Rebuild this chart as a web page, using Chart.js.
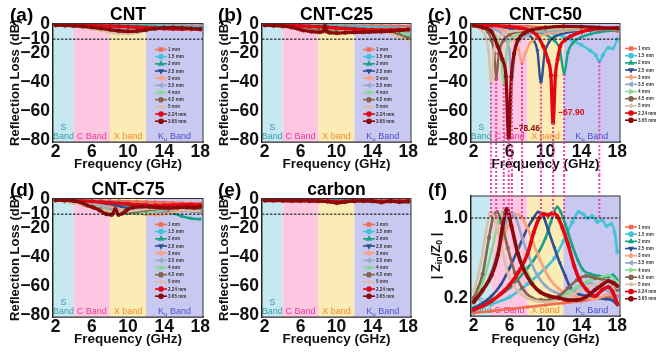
<!DOCTYPE html>
<html>
<head>
<meta charset="utf-8">
<script src="https://cdn.jsdelivr.net/npm/chart.js@4.4.1/dist/chart.umd.min.js"></script>
<style>
  body { margin: 0; background: #fff; width: 670px; height: 361px; overflow: hidden; position: relative; }
  .panel { position: absolute; }
  .panel canvas { display: block; }
  .tag { position: absolute; font: bold 19px "Liberation Sans", Arial, sans-serif; line-height: 19px; color: #000; z-index: 5; }
</style>
</head>
<body>
<div class="panel" style="left:0;top:0"><canvas id="pA" width="215" height="175"></canvas></div>
<div class="panel" style="left:209px;top:0"><canvas id="pB" width="215" height="175"></canvas></div>
<div class="panel" style="left:418px;top:0"><canvas id="pC" width="252" height="175"></canvas></div>
<div class="panel" style="left:0;top:175px"><canvas id="pD" width="215" height="175"></canvas></div>
<div class="panel" style="left:209px;top:175px"><canvas id="pE" width="215" height="175"></canvas></div>
<div class="panel" style="left:418px;top:175px"><canvas id="pF" width="252" height="175"></canvas></div>
<div class="tag" style="left:10px;top:5px">(a)</div>
<div class="tag" style="left:218px;top:5px">(b)</div>
<div class="tag" style="left:428px;top:5px">(c)</div>
<div class="tag" style="left:10px;top:180px">(d)</div>
<div class="tag" style="left:218px;top:180px">(e)</div>
<div class="tag" style="left:428px;top:180px">(f)</div>
<script>
const FONT = '"Liberation Sans", Arial, Helvetica, sans-serif';
Chart.defaults.font.family = FONT;
Chart.defaults.color = '#111';

// ---- data ----
const thickness = ['1 mm', '1.5 mm', '2 mm', '2.5 mm', '3 mm', '3.5 mm', '4 mm', '4.5 mm', '5 mm', '2.24 mm', '3.65 mm'];
const freqGrid = [2, 3, 4, 5, 6, 7, 8, 9, 10, 11, 12, 13, 14, 15, 16, 17, 18];
const freqTicks = [2, 6, 10, 14, 18];
const rlTicks = [0, -10, -20, -40, -60, -80];
const zTicks = [0.2, 0.6, 1.0];
const bandEdges = [2, 4, 8, 12, 18];
const bandText = [['S', 'Band'], ['C Band'], ['X band'], ['K_u Band']];

// (a) CNT
const rlCNT = [
  [-0.1, -0.1, -0.1, -0.2, -0.2, -0.2, -0.3, -0.3, -0.3, -0.4, -0.4, -0.5, -0.5, -0.6, -0.6, -0.7, -0.8],
  [-0.1, -0.2, -0.2, -0.3, -0.3, -0.4, -0.5, -0.5, -0.6, -0.7, -0.8, -0.9, -1.0, -1.1, -1.2, -1.4, -1.5],
  [-0.1, -0.2, -0.3, -0.4, -0.5, -0.6, -0.7, -0.8, -1.0, -1.1, -1.3, -1.5, -1.7, -1.9, -2.2, -2.5, -2.4],
  [-0.2, -0.3, -0.4, -0.5, -0.7, -0.9, -1.1, -1.3, -1.6, -1.9, -2.2, -2.5, -2.8, -3.1, -3.2, -3.0, -2.8],
  [-0.2, -0.3, -0.5, -0.7, -1.0, -1.3, -1.7, -2.1, -2.6, -3.0, -3.2, -3.1, -2.8, -2.5, -2.4, -2.6, -3.0],
  [-0.2, -0.4, -0.6, -0.9, -1.3, -1.8, -2.4, -3.0, -3.5, -3.7, -3.5, -3.0, -2.5, -2.2, -2.3, -2.7, -3.2],
  [-0.3, -0.5, -0.8, -1.2, -1.8, -2.5, -3.3, -4.0, -4.3, -4.0, -3.4, -2.7, -2.2, -2.0, -2.3, -2.9, -3.3],
  [-0.3, -0.6, -1.0, -1.6, -2.4, -3.4, -4.4, -5.2, -5.4, -4.8, -3.8, -2.8, -2.2, -2.1, -2.6, -3.3, -3.0],
  [-0.4, -0.7, -1.2, -2.0, -3.0, -4.2, -5.4, -6.2, -6.4, -5.6, -4.2, -3.0, -2.4, -2.5, -3.2, -3.8, -3.0],
  [-0.1, -0.2, -0.3, -0.4, -0.6, -0.8, -1.0, -1.2, -1.5, -1.8, -2.1, -2.4, -2.7, -2.9, -3.0, -2.8, -3.2],
  [-0.3, -0.5, -0.8, -1.2, -1.8, -2.6, -3.4, -4.2, -4.6, -4.4, -3.6, -2.8, -2.2, -2.0, -2.2, -2.7, -3.0]
];

// (b) CNT-C25
const rlC25 = [
  [-0.1, -0.1, -0.2, -0.2, -0.3, -0.3, -0.4, -0.4, -0.5, -0.5, -0.6, -0.7, -0.7, -0.8, -0.9, -1.0, -1.1],
  [-0.1, -0.2, -0.3, -0.4, -0.5, -0.6, -0.7, -0.8, -1.0, -1.1, -1.3, -1.5, -1.7, -2.0, -2.3, -2.7, -3.2],
  [-0.2, -0.3, -0.4, -0.6, -0.8, -1.0, -1.2, -1.4, -1.7, -2.0, -2.4, -2.8, -3.3, -3.9, -4.6, -5.5, -7.5],
  [-0.2, -0.4, -0.6, -0.8, -1.1, -1.4, -1.8, -2.2, -2.7, -3.2, -3.8, -4.3, -4.5, -4.3, -4.0, -4.2, -5.0],
  [-0.3, -0.5, -0.7, -1.0, -1.4, -1.9, -2.5, -3.1, -3.7, -4.1, -4.2, -3.9, -3.4, -3.2, -3.5, -4.2, -5.2],
  [-0.3, -0.5, -0.8, -1.2, -1.7, -2.4, -3.1, -3.8, -4.2, -4.2, -3.8, -3.2, -3.0, -3.2, -3.9, -4.8, -6.0],
  [-0.3, -0.6, -0.9, -1.4, -2.0, -2.8, -3.6, -4.3, -4.5, -4.2, -3.6, -3.1, -3.0, -3.4, -4.3, -5.5, -7.0],
  [-0.4, -0.7, -1.1, -1.7, -2.5, -3.4, -4.3, -4.9, -4.9, -4.3, -3.6, -3.2, -3.3, -4.0, -5.2, -7.0, -9.5],
  [-0.4, -0.8, -1.3, -2.0, -3.0, -4.1, -5.1, -5.6, -5.2, -4.4, -3.7, -3.4, -3.7, -4.6, -6.2, -8.5, -11.0],
  [-0.2, -0.3, -0.5, -0.7, -0.9, -1.2, -1.5, -1.9, -2.3, -2.7, -3.1, -3.4, -3.6, -3.7, -3.6, -3.5, -3.3],
  [[2, -0.3], [3, -0.6], [4, -1.0], [5, -1.8], [6.3, -4.0], [7.2, -4.8], [8.15, -5.2], [8.5, -4.5], [8.7, -0.8],
   [8.9, -4.5], [9.25, -5.5], [10, -5.8], [11, -5.5], [12, -5.3], [13, -5.2], [13.7, -5.0], [15, -4.8],
   [16, -4.5], [17, -4.0], [18, -3.3]]
];

// (c) CNT-C50
const rlC50 = [
  [[2, -0.2], [4, -0.4], [6, -0.8], [8, -1.2], [10, -1.7], [12, -2.3], [14, -3.0], [16, -3.8], [18, -4.5]],
  [[2, -0.3], [4, -0.9], [6, -1.8], [8, -3.2], [10, -5.2], [11, -6.5], [12, -8.5], [13, -11], [14, -14],
   [15, -18], [15.6, -21], [16, -25.3], [16.4, -21], [17, -16], [17.5, -16.5], [18, -10]],
  [[2, -0.2], [4, -0.8], [6, -1.8], [8, -3.5], [9, -5], [10, -7], [11, -11], [11.6, -17], [12.08, -34],
   [12.5, -19], [13, -13], [14, -8.5], [15, -6.5], [16, -5.2], [17, -4.3], [18, -3.6]],
  [[2, -0.3], [4, -1.1], [6, -2.6], [7, -4], [8, -6.5], [8.7, -11], [9.1, -18], [9.49, -40], [9.9, -20],
   [10.4, -12], [11, -8.5], [12, -6], [14, -4.2], [16, -3.5], [18, -3]],
  [[2, -0.5], [4, -1.6], [5, -3.2], [6, -6.2], [6.6, -11], [7.0, -17], [7.38, -26.5], [7.8, -19], [8.3, -12.5],
   [9, -9], [10, -6.5], [12, -4.5], [14, -3.6], [16, -3.2], [18, -3]],
  [[2, -0.5], [3, -1.2], [4, -2.6], [5, -5.5], [5.6, -10], [5.95, -17], [6.26, -39], [6.6, -18], [7.1, -11],
   [8, -7.5], [9, -5.5], [11, -4], [14, -3], [18, -2.8]],
  [[2, -0.6], [3, -1.6], [4, -4.5], [4.6, -9], [5.0, -17], [5.35, -41], [5.7, -17], [6.2, -10], [7, -6.8],
   [8, -5], [10, -3.5], [13, -3], [18, -3]],
  [[2, -0.8], [3, -2.3], [3.6, -5], [4.0, -11], [4.3, -20], [4.5, -37.5], [4.8, -20], [5.3, -11], [6.0, -7],
   [7.5, -4.5], [10, -3], [14, -2.6], [18, -3]],
  [[2, -1.1], [2.8, -3.5], [3.3, -8], [3.65, -18], [3.93, -40], [4.25, -18], [4.7, -10], [5.5, -6], [7, -4],
   [10, -3], [14, -2.5], [18, -3]],
  [[2, -0.2], [4, -0.6], [6, -1.3], [7, -2.2], [8, -3.6], [9, -7], [9.75, -15], [10.3, -25], [10.6, -35],
   [10.85, -67.90], [11.1, -35], [11.35, -24], [11.63, -15], [12.2, -10.5], [12.76, -8.2], [14, -5],
   [15, -3.4], [16.5, -2.6], [18, -2.2]],
  [[2, -0.6], [3, -2], [4, -5], [4.68, -15], [5.2, -24], [5.6, -36], [5.9, -78.46], [6.2, -36], [6.5, -20],
   [6.93, -10.5], [7.6, -6], [8.5, -3.5], [10, -2], [12, -1.2], [14, -1.4], [16, -2], [18, -2.6]]
];

// (d) CNT-C75
const rlC75 = [
  [-0.1, -0.2, -0.3, -0.4, -0.5, -0.6, -0.8, -0.9, -1.1, -1.3, -1.5, -1.7, -1.9, -2.1, -2.3, -2.5, -2.7],
  [-0.2, -0.3, -0.5, -0.7, -1.0, -1.3, -1.7, -2.1, -2.6, -3.1, -3.7, -4.3, -4.9, -5.5, -6.0, -6.4, -6.8],
  [-0.2, -0.4, -0.7, -1.0, -1.4, -1.9, -2.5, -3.2, -4.0, -4.9, -5.8, -6.8, -8.0, -9.5, -11.5, -13.0, -13.5],
  [-0.3, -0.6, -0.9, -1.4, -2.0, -2.8, -3.7, -4.7, -5.8, -6.8, -7.5, -7.9, -8.0, -7.8, -7.6, -7.8, -8.2],
  [-0.3, -0.7, -1.2, -1.9, -2.8, -3.9, -5.1, -6.5, -8.0, -9.4, -10.3, -10.5, -9.8, -8.5, -7.5, -7.2, -7.6],
  [-0.4, -0.8, -1.4, -2.3, -3.4, -4.8, -6.3, -7.8, -9.0, -9.6, -9.4, -8.6, -7.6, -6.9, -6.8, -7.2, -7.8],
  [-0.4, -0.9, -1.7, -2.8, -4.2, -5.9, -7.6, -9.0, -9.8, -9.7, -8.9, -7.8, -7.0, -6.6, -6.8, -7.4, -8.0],
  [-0.5, -1.1, -2.0, -3.3, -4.9, -6.6, -8.0, -8.8, -8.9, -8.3, -7.4, -6.6, -6.2, -6.3, -6.9, -7.6, -8.0],
  [-0.6, -1.3, -2.4, -3.8, -5.4, -6.9, -7.9, -8.3, -8.0, -7.3, -6.5, -6.0, -6.0, -6.5, -7.2, -7.8, -7.9],
  [-0.2, -0.4, -0.6, -0.9, -1.2, -1.6, -2.0, -2.5, -3.0, -3.4, -3.7, -3.9, -3.9, -3.8, -3.6, -3.5, -3.6],
  [[2, -0.3], [3, -0.5], [4, -0.9], [5, -2.5], [5.5, -4], [6.2, -5.5], [6.9, -7.5], [7.6, -10], [8.2, -10.5],
   [8.6, -6.5], [8.95, -10.5], [9.4, -9.5], [9.8, -7.5], [10.6, -5.2], [11.5, -4.8], [12.4, -5], [13.5, -5.5],
   [14.5, -5.8], [15.5, -5.5], [16.5, -5.2], [17.3, -5.6], [18, -5]]
];

// (e) carbon
const rlCarbon = [
  [-0.1, -0.1, -0.1, -0.1, -0.2, -0.2, -0.2, -0.2, -0.3, -0.3, -0.3, -0.3, -0.4, -0.4, -0.4, -0.5, -0.5],
  [-0.1, -0.1, -0.2, -0.2, -0.2, -0.3, -0.3, -0.4, -0.4, -0.5, -0.5, -0.6, -0.6, -0.7, -0.8, -0.9, -1.0],
  [-0.1, -0.2, -0.2, -0.3, -0.3, -0.4, -0.5, -0.5, -0.6, -0.7, -0.8, -0.9, -1.0, -1.1, -1.2, -1.4, -1.9],
  [-0.2, -0.2, -0.3, -0.3, -0.4, -0.5, -0.6, -0.7, -0.8, -0.9, -1.0, -1.0, -1.1, -1.1, -1.2, -1.3, -1.4],
  [-0.2, -0.2, -0.3, -0.4, -0.5, -0.6, -0.7, -0.8, -1.0, -1.0, -1.0, -1.0, -1.0, -1.1, -1.2, -1.2, -1.3],
  [-0.2, -0.3, -0.3, -0.4, -0.5, -0.7, -0.8, -0.9, -1.1, -1.1, -1.0, -1.0, -1.0, -1.1, -1.2, -1.3, -1.3],
  [-0.2, -0.3, -0.4, -0.5, -0.6, -0.7, -0.9, -1.0, -1.2, -1.2, -1.1, -1.0, -1.0, -1.1, -1.2, -1.3, -1.4],
  [-0.2, -0.3, -0.4, -0.5, -0.6, -0.8, -0.9, -1.1, -1.3, -1.3, -1.1, -1.0, -1.0, -1.2, -1.3, -1.3, -1.3],
  [-0.3, -0.3, -0.4, -0.5, -0.7, -0.8, -1.0, -1.2, -1.4, -1.3, -1.1, -1.0, -1.1, -1.3, -1.3, -1.4, -1.3],
  [-0.3, -0.4, -0.5, -0.6, -0.6, -0.7, -0.8, -1.0, -1.4, -1.2, -0.8, -0.7, -0.8, -1.2, -0.8, -1.1, -0.9],
  [-0.6, -0.6, -0.7, -0.8, -0.8, -0.9, -1.0, -1.3, -2.3, -1.5, -0.9, -0.8, -1.0, -1.9, -1.0, -1.6, -1.1]
];

// (f) |Zin/Z0| of CNT-C50
const zC50 = [
  [[2, 0.05], [4, 0.07], [6, 0.09], [8, 0.11], [10, 0.13], [12, 0.15], [14, 0.17], [16, 0.2], [18, 0.22]],
  [[2, 0.09], [4, 0.14], [6, 0.21], [8, 0.34], [10, 0.5], [11, 0.6], [12, 0.77], [13, 0.96], [13.7, 1.06],
   [14.2, 1.04], [14.7, 1.0], [15.2, 1.02], [15.8, 0.96], [16.3, 0.98], [16.8, 0.92], [17.3, 0.94], [17.7, 0.86], [18, 0.66]],
  [[2, 0.1], [4, 0.18], [6, 0.3], [8, 0.5], [9, 0.62], [10, 0.8], [10.6, 0.96], [11.0, 1.07], [11.3, 1.11],
   [11.7, 1.06], [12.2, 0.94], [13, 0.72], [13.6, 0.58], [14.2, 0.48], [15, 0.44], [16, 0.42], [17, 0.41], [17.5, 0.43], [18, 0.38]],
  [[2, 0.1], [3, 0.15], [4, 0.22], [5, 0.33], [6, 0.5], [7, 0.7], [8, 0.9], [8.6, 0.99], [9.2, 1.06], [9.7, 1.03],
   [10.3, 0.88], [11, 0.7], [11.6, 0.55], [12.2, 0.42], [12.8, 0.3], [13.7, 0.24], [14.7, 0.22], [15.7, 0.2],
   [16.7, 0.19], [17.4, 0.18], [18, 0.13]],
  [[2, 0.15], [3, 0.26], [4, 0.44], [5, 0.72], [6, 0.96], [6.6, 1.04], [7.2, 1.02], [8, 0.9], [8.6, 0.76],
   [9.4, 0.58], [10.4, 0.4], [11.5, 0.29], [12.5, 0.24], [13.5, 0.21], [14.5, 0.2], [15.5, 0.19], [16.5, 0.22],
   [17.3, 0.25], [18, 0.16]],
  [[2, 0.14], [3, 0.26], [4, 0.47], [5, 0.77], [5.7, 0.98], [6.2, 1.05], [6.7, 1.0], [7.4, 0.8], [8.2, 0.6],
   [9, 0.44], [10, 0.32], [11, 0.26], [12, 0.24], [13, 0.27], [14, 0.33], [15, 0.35], [16, 0.3], [17, 0.27], [18, 0.2]],
  [[2, 0.18], [3, 0.36], [4, 0.67], [4.7, 0.95], [5.3, 1.07], [5.9, 1.0], [6.5, 0.82], [7.2, 0.6], [8, 0.45],
   [9, 0.3], [10, 0.22], [11, 0.2], [12, 0.22], [13, 0.28], [14, 0.34], [15, 0.38], [16, 0.4], [17, 0.43], [18, 0.36]],
  [[2, 0.2], [3, 0.44], [3.7, 0.8], [4.2, 1.02], [4.6, 1.06], [5.1, 0.95], [5.8, 0.7], [6.6, 0.45], [7.4, 0.3],
   [8.5, 0.2], [9.5, 0.18], [10.5, 0.18], [11.5, 0.22], [12.5, 0.3], [13.5, 0.38], [14.5, 0.42], [15.5, 0.4],
   [16.5, 0.38], [17.5, 0.34], [18, 0.28]],
  [[2, 0.26], [2.8, 0.55], [3.4, 0.88], [3.9, 1.06], [4.4, 0.98], [5.0, 0.75], [5.8, 0.45], [6.8, 0.28], [8, 0.2],
   [9, 0.17], [10, 0.16], [11, 0.17], [12, 0.2], [13, 0.24], [14, 0.28], [15, 0.32], [16, 0.35], [17, 0.37], [18, 0.3]],
  [[2, 0.08], [3, 0.12], [4, 0.17], [5, 0.24], [6, 0.33], [7, 0.46], [8, 0.64], [8.7, 0.86], [9.3, 1.0],
   [9.8, 1.04], [10.3, 1.03], [10.8, 1.05], [11.3, 1.02], [11.9, 0.9], [12.5, 0.74], [13.2, 0.52], [13.8, 0.38],
   [14.6, 0.28], [15.5, 0.22], [16.3, 0.28], [17, 0.31], [17.5, 0.26], [18, 0.14]],
  [[2, 0.16], [3, 0.28], [4, 0.43], [4.7, 0.63], [5.2, 0.9], [5.7, 1.09], [6.2, 0.92], [6.9, 0.65], [7.6, 0.48],
   [8.5, 0.34], [9.4, 0.26], [10.4, 0.22], [11.5, 0.2], [12.5, 0.18], [13.5, 0.18], [14.5, 0.21], [15.5, 0.28],
   [16.3, 0.33], [17, 0.37], [17.6, 0.35], [18, 0.32]]
];

// ---- style ----
const lineColors = ['#f26a4f', '#45c3d6', '#17a283', '#2f4f93', '#f9a27f', '#94a9cb', '#86d993', '#85644a', '#d9c0a6', '#e30613', '#8b0a0a'];
const markers = ['rect', 'circle', 'triangle', 'triangle', 'rectRot', 'triangle', 'triangle', 'circle', 'star', 'circle', 'circle'];
const markerRot = [0, 0, 0, 180, 0, -90, 90, 0, 0, 0, 0];
const bandFills = ['#c6e9f1', '#fdc6e1', '#fbebb4', '#c9c8f0'];
const bandInk = ['#3a9aa6', '#e83a98', '#f5892b', '#4a4fd0'];
const PINK = '#ee3fa6';

// dip frequencies of CNT-C50, reused for the guide lines in (f)
const c50Dips = rlC50.map(s => s.reduce((a, p) => (p[1] < a[1] ? p : a))).filter(p => p[1] < -20).map(p => p[0]);

function toPoints(s) {
  return Array.isArray(s[0]) ? s.map(p => ({x: p[0], y: p[1]})) : s.map((v, k) => ({x: freqGrid[k], y: v}));
}

function datasetsFor(series, wide) {
  return series.map((s, i) => ({
    label: thickness[i],
    data: toPoints(s),
    borderColor: lineColors[i],
    backgroundColor: lineColors[i],
    borderWidth: i >= 9 ? (wide ? 3.6 : 3.3) : (wide ? 2.6 : 2.4),
    pointStyle: markers[i],
    pointRotation: markerRot[i],
    pointRadius: 1.8,
    pointBorderWidth: 0.6,
    cubicInterpolationMode: 'monotone',
    order: series.length - i
  }));
}

// text with _x or _{xy} subscripts
function drawRich(ctx, str, x, y, size, weight, align) {
  const parts = [];
  str.replace(/_\{([^}]*)\}|_(.)|([^_]+)/g, (m, a, b, c) => {
    if (c !== undefined) parts.push({t: c, sub: false});
    else parts.push({t: a !== undefined ? a : b, sub: true});
    return m;
  });
  let total = 0;
  parts.forEach(p => {
    ctx.font = weight + ' ' + (p.sub ? size * 0.68 : size) + 'px ' + FONT;
    p.w = ctx.measureText(p.t).width;
    total += p.w;
  });
  let cx = align === 'center' ? x - total / 2 : x;
  ctx.textAlign = 'left';
  parts.forEach(p => {
    ctx.font = weight + ' ' + (p.sub ? size * 0.68 : size) + 'px ' + FONT;
    ctx.fillText(p.t, cx, p.sub ? y + size * 0.28 : y);
    cx += p.w;
  });
}

const bandPlugin = {
  id: 'bands',
  beforeDatasetsDraw(chart) {
    const {ctx, chartArea: a, scales: {x}} = chart;
    ctx.save();
    ctx.textBaseline = 'alphabetic';
    for (let b = 0; b < bandFills.length; b++) {
      const l = b === 0 ? a.left : x.getPixelForValue(bandEdges[b]);
      const r = b === bandFills.length - 1 ? a.right : x.getPixelForValue(bandEdges[b + 1]);
      ctx.fillStyle = bandFills[b];
      ctx.fillRect(l, a.top, r - l, a.bottom - a.top);
      ctx.fillStyle = bandInk[b];
      const lines = bandText[b];
      lines.forEach((t, k) => {
        drawRich(ctx, t, (l + r) / 2, a.bottom - 3.5 - (lines.length - 1 - k) * 8.5, 9, 'normal', 'center');
      });
    }
    ctx.restore();
  }
};

const refPlugin = {
  id: 'refLine',
  afterDatasetsDraw(chart, args, o) {
    const {ctx, chartArea: a, scales: {y}} = chart;
    const py = y.getPixelForValue(o.value);
    ctx.save();
    ctx.strokeStyle = '#000';
    ctx.lineWidth = 1;
    ctx.setLineDash([2.5, 1.5]);
    ctx.beginPath();
    ctx.moveTo(a.left, py);
    ctx.lineTo(a.right, py);
    ctx.stroke();
    ctx.setLineDash([]);
    ctx.strokeStyle = '#333';
    ctx.strokeRect(a.left, a.top, a.right - a.left, a.bottom - a.top);
    ctx.restore();
  }
};

const keyPlugin = {
  id: 'key',
  afterDatasetsDraw(chart, args, o) {
    const {ctx, chartArea: a} = chart;
    const x0 = o.outside ? a.right + 5 : a.right - 48;
    ctx.save();
    chart.data.datasets.forEach((ds, i) => {
      const yy = a.top + o.top + i * 7.17;
      ctx.strokeStyle = ds.borderColor;
      ctx.fillStyle = ds.borderColor;
      ctx.lineWidth = 1.6;
      ctx.beginPath();
      ctx.moveTo(x0, yy);
      ctx.lineTo(x0 + 12, yy);
      ctx.stroke();
      Chart.helpers.drawPoint(ctx, {pointStyle: ds.pointStyle, rotation: ds.pointRotation, radius: 2, borderWidth: 0.8}, x0 + 6, yy);
      ctx.fillStyle = '#333';
      ctx.font = 'bold 4.6px ' + FONT;
      ctx.textAlign = 'left';
      ctx.textBaseline = 'middle';
      ctx.fillText(ds.label, x0 + 13, yy + 0.3);
    });
    ctx.restore();
  }
};

// dotted guides from each dip of (c) down past the axis
const dipPlugin = {
  id: 'dips',
  afterDraw(chart, args, o) {
    if (!o.show) return;
    const {ctx, scales: {x, y}} = chart;
    ctx.save();
    chart.data.datasets.forEach(ds => {
      const low = ds.data.reduce((m, p) => (p.y < m.y ? p : m));
      if (low.y > -20) return;
      const px = x.getPixelForValue(low.x), py = y.getPixelForValue(low.y);
      ctx.strokeStyle = PINK;
      ctx.lineWidth = 2;
      ctx.setLineDash([2, 2]);
      ctx.beginPath();
      ctx.moveTo(px, py);
      ctx.lineTo(px, chart.height);
      ctx.stroke();
    });
    ctx.setLineDash([]);
    chart.data.datasets.forEach(ds => {
      const low = ds.data.reduce((m, p) => (p.y < m.y ? p : m));
      if (low.y > -60) return;
      const px = x.getPixelForValue(low.x), py = y.getPixelForValue(low.y);
      ctx.fillStyle = ds.borderColor;
      ctx.font = 'bold 8.5px ' + FONT;
      ctx.textAlign = 'left';
      ctx.textBaseline = 'middle';
      ctx.fillText('\u2212' + (-low.y).toFixed(2), px + 5, py - 10);
    });
    ctx.restore();
  }
};

// continuation of the guides in (f), from the top edge to |Zin/Z0| = 1
const dropPlugin = {
  id: 'drops',
  afterDraw(chart, args, o) {
    if (!o.show) return;
    const {ctx, scales: {x, y}} = chart;
    const yEnd = y.getPixelForValue(1.0);
    ctx.save();
    ctx.strokeStyle = PINK;
    ctx.lineWidth = 2;
    ctx.setLineDash([2, 2]);
    c50Dips.forEach(f => {
      const px = x.getPixelForValue(f);
      ctx.beginPath();
      ctx.moveTo(px, 0);
      ctx.lineTo(px, yEnd);
      ctx.stroke();
    });
    ctx.restore();
  }
};

const richTitlePlugin = {
  id: 'richTitle',
  afterDraw(chart, args, o) {
    if (!o.text) return;
    const {ctx, chartArea: a, scales: {y}} = chart;
    ctx.save();
    ctx.translate(y.left + 18, (a.top + a.bottom) / 2);
    ctx.rotate(-Math.PI / 2);
    ctx.fillStyle = '#111';
    ctx.textBaseline = 'middle';
    drawRich(ctx, o.text, 0, 0, 13, 'bold', 'center');
    ctx.restore();
  }
};

const rlFormat = v => (v < 0 ? '\u2212' + (-v) : String(v));

function buildPanel(id, opt) {
  const yTicks = opt.yTicks || rlTicks;
  return new Chart(document.getElementById(id), {
    type: 'line',
    data: {datasets: datasetsFor(opt.series, opt.wide)},
    options: {
      responsive: false,
      animation: false,
      events: [],
      layout: {padding: {top: opt.padTop || 0, right: opt.padRight, left: 0, bottom: 0}},
      plugins: {
        legend: {display: false},
        tooltip: {enabled: false},
        title: {
          display: !!opt.title, text: opt.title || '', fullSize: false, color: '#000',
          font: {size: 17.5, weight: 'bold', lineHeight: 1}, padding: {top: 6, bottom: 0}
        },
        refLine: {value: opt.ref === undefined ? -10 : opt.ref},
        key: {outside: !!opt.outside, top: opt.keyTop || 26},
        dips: {show: !!opt.dips},
        drops: {show: !!opt.drops},
        richTitle: {text: opt.richTitle || ''}
      },
      scales: {
        x: {
          type: 'linear', min: 1.7, max: 18.3,
          afterBuildTicks: s => { s.ticks = freqTicks.map(v => ({value: v})); },
          afterFit: s => { s.height = opt.xHeight || 33; s.paddingLeft = 0; s.paddingRight = 0; },
          grid: {display: false, drawTicks: false},
          border: {display: true, color: '#111', width: 1.5},
          ticks: {autoSkip: false, maxRotation: 0, padding: 0, color: '#111', font: {size: 17.5, weight: 'bold', lineHeight: 1.2}},
          title: {display: true, text: 'Frequency (GHz)', color: '#111', font: {size: 13.5, weight: 'bold', lineHeight: 1}, padding: {top: 0, bottom: 4}}
        },
        y: {
          type: 'linear', min: opt.yMin === undefined ? -81 : opt.yMin, max: opt.yMax === undefined ? 0.8 : opt.yMax,
          afterBuildTicks: s => { s.ticks = yTicks.map(v => ({value: v})); },
          afterFit: s => { s.width = 53; s.paddingTop = 0; s.paddingBottom = 0; },
          grid: {display: false, drawTicks: false},
          border: {display: true, color: '#111', width: 1.5},
          ticks: {autoSkip: false, padding: 3, color: '#111', font: {size: 17.5, weight: 'bold'}, callback: opt.fmt || rlFormat},
          title: {
            display: !opt.richTitle, text: 'Reflection Loss (dB)', color: '#111',
            font: {size: 13, weight: 'bold', lineHeight: 1}, padding: {top: 9, bottom: 0}
          }
        }
      }
    },
    plugins: [bandPlugin, refPlugin, keyPlugin, dipPlugin, dropPlugin, richTitlePlugin]
  });
}

buildPanel('pA', {series: rlCNT, title: 'CNT', padRight: 12});
buildPanel('pB', {series: rlC25, title: 'CNT-C25', padRight: 13});
buildPanel('pC', {series: rlC50, title: 'CNT-C50', padRight: 50, outside: true, keyTop: 25, dips: true});
buildPanel('pD', {series: rlC75, title: 'CNT-C75', padRight: 12});
buildPanel('pE', {series: rlCarbon, title: 'carbon', padRight: 13});
buildPanel('pF', {
  series: zC50, padRight: 50, padTop: 21, xHeight: 34, outside: true, keyTop: 31, drops: true, wide: true,
  yMin: 0.02, yMax: 1.22, yTicks: zTicks, ref: 1.0, fmt: v => v.toFixed(1), richTitle: '| Z_{in}/Z_0 |'
});
</script>
</body>
</html>
